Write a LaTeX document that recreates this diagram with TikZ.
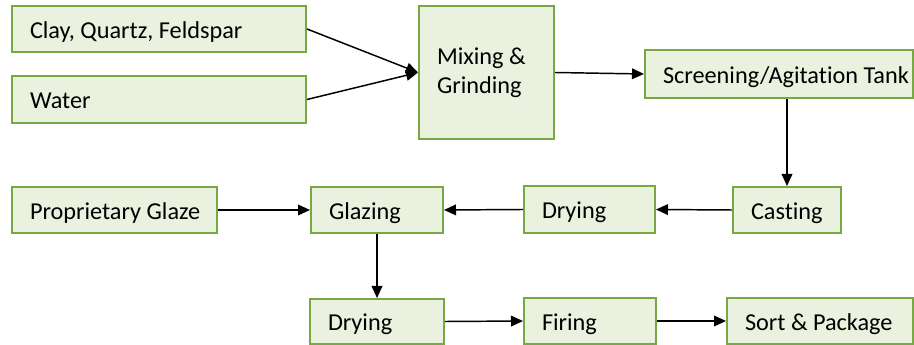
\documentclass[tikz,border=0pt]{standalone}
\usepackage{fontspec}
\setmainfont{Carlito}[Ligatures={NoCommon}]
\usetikzlibrary{arrows.meta}
\definecolor{bfill}{HTML}{EAF1DE}
\definecolor{bline}{HTML}{77A843}
\newcommand\pd{\hspace*{13.5pt}}
\begin{document}
\begin{tikzpicture}[x=0.75pt,y=-0.75pt,
  box/.style={draw=bline, fill=bfill, line width=1.5pt, anchor=north west,
    inner xsep=0pt, inner ysep=0pt, align=flush left,
    font=\fontsize{18.2}{21.6}\selectfont},
  sbox/.style={box, text height=15pt, text depth=1pt},
  arr/.style={-{Triangle[length=9pt,width=8pt]}, line width=1.1pt, black}]
\useasboundingbox (0,0) rectangle (914,345);
\fill[white] (0,0) rectangle (914,345);
% boxes
\node[sbox, text width=220.5pt, minimum height=34.5pt] (clay) at (11,5) {\pd Clay, Quartz, Feldspar};
\node[sbox, text width=220.5pt, minimum height=35.25pt] (water) at (11,75) {\pd Water};
\node[box, text width=101.25pt, minimum height=99.75pt] (mix) at (418,5) {\pd Mixing \&\\\pd Grinding};
\node[sbox, text width=201pt, minimum height=36pt] (screen) at (644,49) {\pd Screening/Agitation Tank};
\node[sbox, text width=153.75pt, minimum height=34.5pt] (gsrc) at (11,186) {\pd Proprietary Glaze};
\node[sbox, text width=99pt, minimum height=34.5pt] (glz) at (310,186) {\pd Glazing};
\node[sbox, text width=98.25pt, minimum height=35.25pt] (dry1) at (523,185) {\pd Drying};
\node[sbox, text width=81pt, minimum height=34.5pt] (cast) at (732,186) {\pd Casting};
\node[sbox, text width=100.5pt, minimum height=33.75pt] (dry2) at (309,298) {\pd Drying};
\node[sbox, text width=99pt, minimum height=34.5pt] (fire) at (523,297) {\pd Firing};
\node[sbox, text width=139.5pt, minimum height=34.5pt] (sort) at (726,297) {\pd Sort \& Package};
% connectors
\draw[arr] (clay.east) -- (mix.west);
\draw[arr] (water.east) -- (mix.west);
\draw[arr] (mix.east) -- (screen.west);
\draw[arr] (cast.north |- screen.south) -- (cast.north);
\draw[arr] (cast.west) -- (dry1.east);
\draw[arr] (dry1.west) -- (glz.east);
\draw[arr] (gsrc.east) -- (glz.west);
\draw[arr] (glz.south) -- (dry2.north);
\draw[arr] (dry2.east) -- (fire.west);
\draw[arr] (fire.east) -- (sort.west);
\end{tikzpicture}
\end{document}
